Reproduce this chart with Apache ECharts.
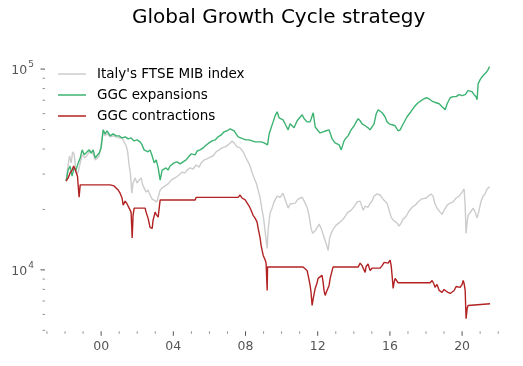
<!DOCTYPE html>
<html><head><meta charset="utf-8">
<script src="https://cdn.jsdelivr.net/npm/echarts/dist/echarts.min.js"></script>
<style>html,body{margin:0;padding:0;background:#fff}#c{width:523px;height:366px}</style>
</head><body><div id="c"></div>
<script>
const chartTitle = 'Global Growth Cycle strategy';
const seriesNames = ["Italy's FTSE MIB index", 'GGC expansions', 'GGC contractions'];
const seriesColors = ['#cccccc', '#3cb371', '#b22222'];

// [decimal year, value]
const ftse = [[1998.06,27700],[1998.17,33300],[1998.25,36900],[1998.34,34100],[1998.42,38700],[1998.50,37800],[1998.59,32200],[1998.65,30000],[1998.73,30700],[1998.84,34100],[1998.95,37400],[1999.11,36100],[1999.22,36900],[1999.39,39100],[1999.56,37800],[1999.67,35300],[1999.78,36100],[1999.89,36900],[2000.00,41900],[2000.11,48700],[2000.22,46500],[2000.33,47600],[2000.50,46000],[2000.66,46500],[2000.83,46000],[2001.00,45400],[2001.16,45400],[2001.27,44400],[2001.39,41400],[2001.47,38700],[2001.55,33300],[2001.63,29700],[2001.70,24100],[2001.77,27100],[2001.88,28700],[2001.99,27100],[2002.11,28000],[2002.22,28700],[2002.30,26500],[2002.38,25600],[2002.49,24400],[2002.60,25000],[2002.71,23600],[2002.83,22500],[2002.94,23000],[2003.09,21800],[2003.16,23000],[2003.27,25000],[2003.38,25600],[2003.55,26200],[2003.71,26800],[2003.88,28000],[2003.99,27700],[2004.16,29000],[2004.32,29700],[2004.49,30700],[2004.65,30400],[2004.76,31400],[2004.93,32200],[2005.10,31800],[2005.26,33300],[2005.43,32500],[2005.54,34100],[2005.71,35300],[2005.87,35700],[2006.04,36500],[2006.20,36900],[2006.37,38700],[2006.54,39600],[2006.70,40500],[2006.87,41000],[2007.04,41900],[2007.15,42900],[2007.26,43900],[2007.37,42900],[2007.53,41000],[2007.70,40500],[2007.87,38700],[2008.03,36100],[2008.14,34500],[2008.25,32900],[2008.37,30400],[2008.48,28700],[2008.59,27100],[2008.70,25000],[2008.81,22800],[2008.92,19800],[2009.00,18100],[2009.09,15400],[2009.20,12800],[2009.25,15800],[2009.36,19200],[2009.47,20300],[2009.58,21800],[2009.75,23300],[2009.92,23000],[2010.08,24100],[2010.19,22500],[2010.36,20300],[2010.47,21300],[2010.58,21000],[2010.75,21500],[2010.91,22500],[2011.02,22800],[2011.14,23000],[2011.25,22000],[2011.41,20500],[2011.52,18700],[2011.63,16100],[2011.72,15200],[2011.80,15400],[2011.91,15900],[2011.97,15800],[2012.08,16900],[2012.19,16100],[2012.30,15000],[2012.41,14000],[2012.49,13300],[2012.58,12500],[2012.66,14400],[2012.74,15200],[2012.85,15900],[2013.02,16700],[2013.24,17300],[2013.41,17900],[2013.52,18300],[2013.68,19400],[2013.85,19800],[2014.07,21000],[2014.18,21800],[2014.35,22000],[2014.52,19800],[2014.63,20800],[2014.79,20500],[2014.90,21500],[2015.01,22000],[2015.12,23300],[2015.29,23900],[2015.46,23600],[2015.62,22500],[2015.73,23000],[2015.84,21500],[2015.96,19800],[2016.07,18300],[2016.18,17700],[2016.29,17900],[2016.40,17100],[2016.51,16500],[2016.62,17100],[2016.73,17900],[2016.90,18500],[2017.06,19600],[2017.23,20500],[2017.40,21000],[2017.56,21800],[2017.73,22500],[2017.84,23000],[2018.01,22800],[2018.12,23300],[2018.28,23900],[2018.39,23300],[2018.50,21300],[2018.61,20300],[2018.78,19400],[2018.89,18900],[2019.00,19800],[2019.17,21000],[2019.34,21500],[2019.50,21800],[2019.67,22800],[2019.83,23300],[2020.00,24400],[2020.11,25300],[2020.17,20800],[2020.22,15200],[2020.28,17300],[2020.33,18700],[2020.50,19600],[2020.61,20300],[2020.72,19400],[2020.83,18100],[2020.94,19800],[2021.05,22000],[2021.16,23300],[2021.27,23900],[2021.38,25300],[2021.52,25900]];

const expansions = [[1998.06,27700],[1998.17,31400],[1998.28,32900],[1998.39,29300],[1998.50,32200],[1998.61,31400],[1998.73,34100],[1998.84,36100],[1998.95,39600],[1999.06,37400],[1999.22,38700],[1999.34,39600],[1999.45,38200],[1999.56,39600],[1999.67,36100],[1999.78,35300],[1999.89,38200],[2000.00,40500],[2000.11,49800],[2000.22,47600],[2000.33,49300],[2000.50,46500],[2000.66,47600],[2000.83,46500],[2001.00,46500],[2001.16,45400],[2001.33,46000],[2001.50,44900],[2001.66,45400],[2001.83,43900],[2001.99,44400],[2002.16,43400],[2002.27,41900],[2002.38,39600],[2002.49,40500],[2002.60,38700],[2002.71,39600],[2002.83,36900],[2002.94,34100],[2003.05,35300],[2003.16,32200],[2003.27,28000],[2003.38,31400],[2003.49,30700],[2003.60,32200],[2003.71,31400],[2003.82,32900],[2003.93,32500],[2004.04,34100],[2004.21,34500],[2004.38,33700],[2004.54,34500],[2004.71,35300],[2004.88,36900],[2004.99,37800],[2005.10,37400],[2005.21,37400],[2005.32,39100],[2005.48,39600],[2005.65,40500],[2005.82,41900],[2005.98,42900],[2006.15,43900],[2006.32,44400],[2006.48,46000],[2006.65,47000],[2006.81,48700],[2006.98,49300],[2007.15,50400],[2007.26,51000],[2007.37,49300],[2007.48,47600],[2007.59,46000],[2007.70,45400],[2007.87,44900],[2008.03,44400],[2008.20,44400],[2008.37,43900],[2008.53,43400],[2008.70,43400],[2008.86,43400],[2009.03,42900],[2009.14,42900],[2009.22,41900],[2009.31,47600],[2009.42,51000],[2009.53,54600],[2009.64,58500],[2009.75,61300],[2009.86,57200],[2009.97,58500],[2010.08,55900],[2010.19,53400],[2010.36,49800],[2010.47,53400],[2010.58,54000],[2010.69,51000],[2010.86,55300],[2010.97,55900],[2011.14,59200],[2011.25,56600],[2011.41,54600],[2011.58,54600],[2011.75,60600],[2011.80,61300],[2011.86,51600],[2012.02,49300],[2012.13,48100],[2012.30,48700],[2012.47,49300],[2012.63,49800],[2012.80,44900],[2012.96,42900],[2013.07,42900],[2013.19,41900],[2013.30,39600],[2013.35,40500],[2013.46,43900],[2013.57,45400],[2013.68,46500],[2013.85,49800],[2014.02,52200],[2014.13,54600],[2014.24,56600],[2014.35,55300],[2014.46,53400],[2014.63,52200],[2014.79,51000],[2014.90,49800],[2015.01,48700],[2015.12,53400],[2015.24,59900],[2015.35,62700],[2015.46,61300],[2015.57,60600],[2015.73,57900],[2015.84,54600],[2015.96,53400],[2016.12,52800],[2016.29,52200],[2016.40,53400],[2016.45,49300],[2016.57,49800],[2016.68,52200],[2016.79,53400],[2016.95,57900],[2017.12,60600],[2017.23,62700],[2017.40,65700],[2017.56,68000],[2017.73,69600],[2017.89,71200],[2018.06,72000],[2018.23,70400],[2018.39,68800],[2018.56,68000],[2018.73,67200],[2018.89,64900],[2019.06,62700],[2019.17,67200],[2019.34,72000],[2019.50,72900],[2019.67,72900],[2019.83,74600],[2020.00,73700],[2020.17,74600],[2020.28,73700],[2020.33,78100],[2020.44,79900],[2020.55,77200],[2020.66,74600],[2020.77,72900],[2020.83,70400],[2020.89,84600],[2021.00,88600],[2021.11,91700],[2021.22,93900],[2021.33,96100],[2021.44,99400],[2021.52,102900]];

const contractions = [[1998.06,27700],[1998.17,28700],[1998.28,30400],[1998.39,31400],[1998.48,32900],[1998.56,32500],[1998.61,30700],[1998.69,29300],[1998.73,26200],[1998.78,23000],[1998.84,26500],[2000.50,26500],[2000.61,27100],[2000.72,26200],[2000.83,25900],[2000.94,25000],[2001.05,24100],[2001.16,22800],[2001.22,21000],[2001.33,22000],[2001.44,21300],[2001.55,20300],[2001.66,19400],[2001.72,14400],[2001.77,18700],[2001.83,20300],[2002.44,20300],[2002.49,19400],[2002.60,18100],[2002.71,16300],[2002.83,16100],[2002.88,17700],[2002.99,19400],[2003.05,18900],[2003.16,18300],[2003.27,22300],[2005.21,22300],[2005.26,22960],[2007.59,22960],[2007.70,23600],[2007.81,22800],[2007.98,22300],[2008.09,21800],[2008.20,20800],[2008.31,19800],[2008.42,18700],[2008.53,18100],[2008.64,17300],[2008.70,16100],[2008.81,14400],[2008.86,13300],[2008.92,12500],[2008.98,11800],[2009.09,11200],[2009.14,10800],[2009.20,7900],[2009.22,10330],[2011.19,10330],[2011.30,10500],[2011.41,9940],[2011.47,9390],[2011.58,8370],[2011.63,7720],[2011.69,6650],[2011.75,7200],[2011.86,8080],[2011.97,8660],[2012.02,9070],[2012.13,9280],[2012.24,9390],[2012.30,8660],[2012.35,7900],[2012.41,7460],[2012.47,7720],[2012.52,7630],[2012.63,8370],[2012.69,9070],[2012.80,9940],[2012.85,10330],[2014.24,10330],[2014.35,10800],[2014.46,10500],[2014.52,10200],[2014.63,9720],[2014.68,10400],[2014.79,10700],[2014.90,9940],[2015.01,10200],[2015.46,10200],[2015.57,10500],[2015.68,10900],[2015.79,10700],[2015.90,10800],[2016.01,11200],[2016.07,10500],[2016.12,9390],[2016.18,8080],[2016.23,8660],[2016.29,9070],[2016.40,9280],[2016.45,8630],[2018.23,8630],[2018.34,8860],[2018.45,8460],[2018.50,8180],[2018.61,8460],[2018.73,7900],[2018.89,7720],[2019.00,7990],[2019.11,8080],[2019.22,7720],[2019.34,7630],[2019.45,7720],[2019.56,7900],[2019.67,8270],[2019.78,8460],[2019.89,8180],[2020.00,8460],[2020.06,8860],[2020.11,8560],[2020.17,7900],[2020.22,5720],[2020.28,6420],[2020.33,6650],[2020.39,6780],[2021.55,6780]];

const xTickYears = [1997,1998,1999,2000,2001,2002,2003,2004,2005,2006,2007,2008,2009,2010,2011,2012,2013,2014,2015,2016,2017,2018,2019,2020,2021,2022];
const xLabelYears = [2000,2004,2008,2012,2016,2020];
const xLabels = ['00','04','08','12','16','20'];
const yMajorTicks = [10000,100000];
const yMinorTicks = [5000,6000,7000,8000,9000,20000,30000,40000,50000,60000,70000,80000,90000];

const X_MIN = 1996.89, X_MAX = 2022.72, Y_MIN = 4945, Y_MAX = 118900;
const FONT = 'DejaVu Sans';

const chart = echarts.init(document.getElementById('c'), null, {renderer: 'canvas'});

function lineSeries(name, data, color, z) {
  return {
    name: name, type: 'line', data: data, color: color,
    showSymbol: false, symbol: 'none', sampling: 'none', z: z,
    lineStyle: {color: color, width: 1.4}, animation: false
  };
}

const xTickData = xTickYears.map(y => [y, Y_MIN, xLabelYears.indexOf(y) >= 0 ? 1 : 0]);
const yTickData = yMajorTicks.map(v => [X_MIN, v, 1]).concat(yMinorTicks.map(v => [X_MIN, v, 0]));

const option = {
  backgroundColor: '#fff',
  animation: false,
  title: {
    text: chartTitle, left: 132, top: 8, padding: 0,
    textStyle: {fontFamily: FONT, fontSize: 20, fontWeight: 'normal', color: '#000'}
  },
  legend: {
    data: seriesNames, orient: 'vertical', left: 58, top: 67, padding: 0,
    itemWidth: 28, itemHeight: 1.5, itemGap: 7, icon: 'rect',
    textStyle: {fontFamily: FONT, fontSize: 13.5, color: '#000', lineHeight: 14, padding: [0, 0, 0, 6]}
  },
  grid: {left: 45, right: 11.8, top: 54, bottom: 34.7, containLabel: false},
  xAxis: {
    type: 'value', min: X_MIN, max: X_MAX, splitNumber: 13, minInterval: 2, maxInterval: 2,
    axisLine: {show: false}, axisTick: {show: false}, splitLine: {show: false},
    axisLabel: {
      margin: 9, color: '#555', fontFamily: FONT, fontSize: 12.5,
      formatter: function (v) { const i = xLabelYears.indexOf(Math.round(v * 1000) / 1000); return i >= 0 ? xLabels[i] : ''; }
    }
  },
  yAxis: {
    type: 'log', logBase: 10, min: Y_MIN, max: Y_MAX,
    axisLine: {show: false}, axisTick: {show: false}, splitLine: {show: false},
    axisLabel: {
      margin: 11, color: '#555', fontFamily: FONT, fontSize: 12.5,
      formatter: function (v) {
        const l = Math.log10(v), r = Math.round(l);
        if (Math.abs(l - r) > 1e-6) return '';
        return '{b|10}{s|' + r + '}';
      },
      rich: {
        b: {fontFamily: FONT, fontSize: 12.5, color: '#555', lineHeight: 17, verticalAlign: 'bottom'},
        s: {fontFamily: FONT, fontSize: 9, color: '#555', lineHeight: 10, verticalAlign: 'top', padding: [0, 0, 0, 1]}
      }
    }
  },
  series: [
    lineSeries(seriesNames[0], ftse, seriesColors[0], 2),
    lineSeries(seriesNames[1], expansions, seriesColors[1], 3),
    lineSeries(seriesNames[2], contractions, seriesColors[2], 4),
    {
      type: 'custom', data: xTickData, silent: true, clip: false, z: 1,
      renderItem: function (params, api) {
        const p = api.coord([api.value(0), api.value(1)]);
        const major = api.value(2) === 1;
        return {type: 'line', shape: {x1: p[0], y1: p[1], x2: p[0], y2: p[1] + (major ? 4.5 : 2.5)},
          style: {stroke: major ? '#555' : '#777', lineWidth: major ? 1 : 0.8}};
      }
    },
    {
      type: 'custom', data: yTickData, silent: true, clip: false, z: 1,
      renderItem: function (params, api) {
        const p = api.coord([api.value(0), api.value(1)]);
        const major = api.value(2) === 1;
        return {type: 'line', shape: {x1: p[0] - (major ? 4.5 : 2.5), y1: p[1], x2: p[0], y2: p[1]},
          style: {stroke: major ? '#555' : '#777', lineWidth: major ? 1 : 0.8}};
      }
    }
  ]
};
chart.setOption(option);
</script></body></html>
